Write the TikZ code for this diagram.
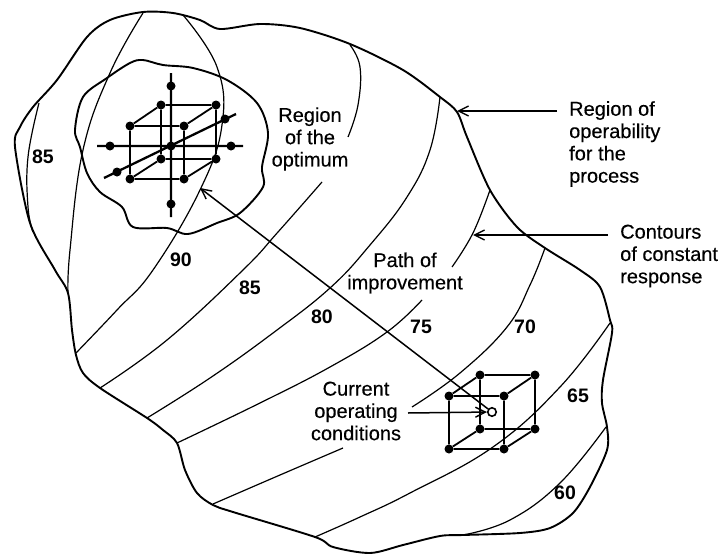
\documentclass[tikz,border=0pt]{standalone}
\usepackage{fontspec}
\setmainfont{Liberation Sans}
\newfontfamily\lblfont[FakeBold=0.3]{Liberation Sans}
\usetikzlibrary{arrows.meta}
\tikzset{
  bound/.style={line width=1.9pt,line join=round},
  contour/.style={line width=1.2pt},
  edgeline/.style={line width=1.8pt},
  axisline/.style={line width=2.3pt},
  pt/.style={circle,fill=black,inner sep=0pt,minimum size=9pt},
  openpt/.style={circle,draw=black,fill=white,line width=1.6pt,inner sep=0pt,minimum size=8.5pt},
  lbl/.style={font=\lblfont\fontsize{20}{22.3}\selectfont,inner sep=0pt},
  num/.style={font=\bfseries\fontsize{19.5}{22}\selectfont,inner sep=0pt},
  barb/.style={line width=1.5pt,-{Straight Barb[length=10pt,width=10pt,line width=1.4pt]}},
}
\begin{document}
\begin{tikzpicture}[x=1pt,y=-1pt]
\useasboundingbox (0,0) rectangle (721,554);
% region of operability
\draw[bound] plot[smooth cycle,tension=0.5] coordinates {
(143,12)(173,13)(200,20)(220,29)(260,24)(300,28)(350,44)(403,70)(440,97)(457,112)(467,137)(490,190)(517,227)(545,248)(580,270)(600,287)(610,320)(612,333)(603,380)(602,403)(607,427)(607,450)(590,487)(573,513)(550,528)(520,533)(463,535)(440,536)(403,545)(370,553)(333,547)(315,537)(233,512)(213,505)(197,493)(185,470)(177,443)(163,430)(147,418)(100,388)(83,373)(76,355)(72,330)(68,293)(55,270)(30,223)(15,147)(20,127)(33,107)(57,80)(87,37)(110,20)};
% contours
\begin{scope}[contour]
\draw plot[smooth,tension=0.7] coordinates {(39,103)(28,157)(28,207)(33,232)};
\draw plot[smooth,tension=0.7] coordinates {(143,13)(110,73)(83,150)(70,250)(68,293)};
\draw plot[smooth,tension=0.7] coordinates {(183,15)(217,67)(222,125)(200,190)(153,270)(117,310)(76,353)};
\draw plot[smooth,tension=0.7] coordinates {(350,45)(360,67)(358,105)(348,137)};
\draw plot[smooth,tension=0.7] coordinates {(322,182)(278,232)(243,270)(167,340)(100,388)};
\draw plot[smooth,tension=0.7] coordinates {(440,97)(430,150)(407,197)(370,245)(330,288)(273,333)(210,378)(147,418)};
\draw plot[smooth,tension=0.7] coordinates {(490,190)(473,233)(452,267)};
\draw plot[smooth,tension=0.7] coordinates {(422,300)(387,332)(330,367)(260,403)(177,443)};
\draw plot[smooth,tension=0.7] coordinates {(545,248)(530,285)(507,327)(460,373)(412,407)};
\draw plot[smooth,tension=0.7] coordinates {(343,448)(280,475)(213,504)};
\draw plot[smooth,tension=0.7] coordinates {(610,323)(560,387)(493,447)(410,493)(360,517)(315,537)};
\draw plot[smooth,tension=0.7] coordinates {(606,427)(560,483)(510,520)(463,535)};
\end{scope}
% region of the optimum
\draw[bound] plot[smooth cycle,tension=0.55] coordinates {
(143,60)(163,65)(193,68)(227,80)(257,103)(268,133)(262,167)(263,187)(240,213)(217,223)(188,234)(167,228)(133,227)(122,207)(100,192)(87,173)(80,147)(75,130)(83,97)(107,78)(130,63)};
% upper design
\node[pt] (af1) at (130,126) {};
\node[pt] (af2) at (184,126) {};
\node[pt] (af3) at (184,179) {};
\node[pt] (af4) at (130,179) {};
\node[pt] (ab1) at (161,105) {};
\node[pt] (ab2) at (216,105) {};
\node[pt] (ab3) at (216,159) {};
\node[pt] (ab4) at (161,159) {};
\draw[edgeline] (af1)--(af2)--(af3)--(af4)--(af1) (ab1)--(ab2)--(ab3)--(ab4)--(ab1) (af1)--(ab1) (af2)--(ab2) (af3)--(ab3) (af4)--(ab4);
\node[pt] (sn) at (171,86) {};
\node[pt] (ss) at (171,204) {};
\node[pt] (sw) at (110,146) {};
\node[pt] (se) at (231,146) {};
\node[pt] (sa) at (117,172) {};
\node[pt] (sb) at (225,119) {};
\node[pt] (sc) at (171,146) {};
\coordinate (tn) at (171,73);
\coordinate (ts) at (171,217);
\coordinate (tw) at (97,146);
\coordinate (te) at (243,146);
\coordinate (ta) at (104,178);
\coordinate (tb) at (236,114);
\draw[axisline] (tn)--(ts) (tw)--(te) (ta)--(tb);
% lower design
\node[pt] (bf1) at (449,396) {};
\node[pt] (bf2) at (504,396) {};
\node[pt] (bf3) at (504,449) {};
\node[pt] (bf4) at (449,449) {};
\node[pt] (bb1) at (480,375) {};
\node[pt] (bb2) at (535,375) {};
\node[pt] (bb3) at (535,429) {};
\node[pt] (bb4) at (480,429) {};
\draw[edgeline] (bf1)--(bf2)--(bf3)--(bf4)--(bf1) (bb1)--(bb2)--(bb3)--(bb4)--(bb1) (bf1)--(bb1) (bf2)--(bb2) (bf3)--(bb3) (bf4)--(bb4);
\node[openpt] (cur) at (492,412) {};
\coordinate (optend) at (200,188);
\draw[barb] (cur)--(optend);
% labels
\node[lbl,align=center] (lopt) at (310,139) {Region\\of the\\optimum};
\node[lbl,align=left,anchor=west] (loper) at (569,144) {Region of\\operability\\for the\\process};
\node[lbl,align=left,anchor=west] (lcont) at (620,256) {Contours\\of constant\\response};
\node[lbl,align=center] (lpath) at (405,273) {Path of\\improvement};
\node[lbl,align=center] (lcur) at (356,411) {Current\\operating\\conditions};
\node[num] (n1) at (43,157) {85};
\node[num] (n2) at (181,260) {90};
\node[num] (n3) at (250,288) {85};
\node[num] (n4) at (322,317) {80};
\node[num] (n5) at (421,327) {75};
\node[num] (n6) at (525,327) {70};
\node[num] (n7) at (578,396) {65};
\node[num] (n8) at (565,493) {60};
% pointer arrows
\coordinate (opers) at (557,111);
\coordinate (opere) at (457,111);
\coordinate (conts) at (608,235);
\coordinate (conte) at (473,235);
\coordinate (curs) at (408,413);
\draw[barb] (opers)--(opere);
\draw[barb] (conts)--(conte);
\draw[barb] (curs)--(cur);
\end{tikzpicture}
\end{document}
